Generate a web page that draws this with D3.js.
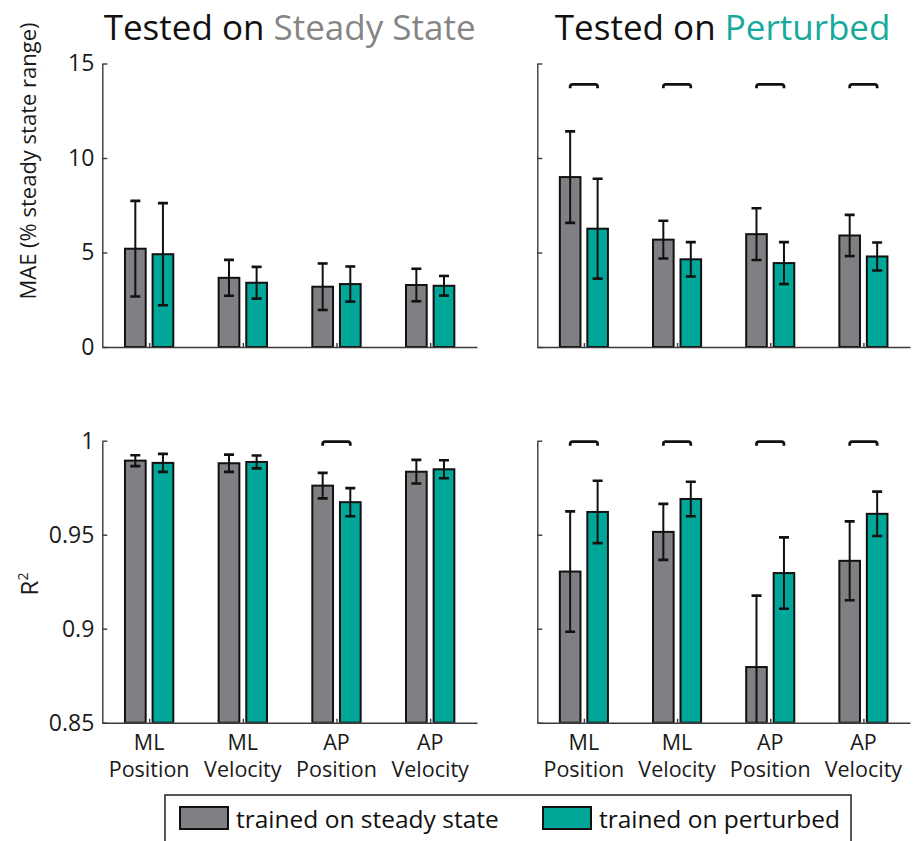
<!DOCTYPE html>
<html>
<head>
<meta charset="utf-8">
<script src="https://cdn.jsdelivr.net/npm/d3@7"></script>
<style>
  html, body { margin: 0; padding: 0; background: #fff; }
  svg { display: block; font-family: "Open Sans", "Noto Sans", sans-serif; }
</style>
</head>
<body>
<svg id="chart" width="915" height="841"></svg>
<script>
// ---------------- data ----------------
const categories = [["ML", "Position"], ["ML", "Velocity"], ["AP", "Position"], ["AP", "Velocity"]];
const seriesNames = ["trained on steady state", "trained on perturbed"];

// MAE (% steady state range) tested on steady state
const maeSteady_trainSS = [5.20, 3.66, 3.19, 3.28];
const maeSteady_trainSS_err = [2.53, 0.95, 1.23, 0.86];
const maeSteady_trainPT = [4.91, 3.40, 3.33, 3.24];
const maeSteady_trainPT_err = [2.70, 0.84, 0.93, 0.52];
// MAE tested on perturbed
const maePert_trainSS = [8.99, 5.68, 5.97, 5.90];
const maePert_trainSS_err = [2.42, 1.00, 1.37, 1.09];
const maePert_trainPT = [6.26, 4.64, 4.44, 4.79];
const maePert_trainPT_err = [2.64, 0.91, 1.11, 0.74];
// R^2 tested on steady state
const r2Steady_trainSS = [0.9894, 0.9880, 0.9761, 0.9835];
const r2Steady_trainSS_err = [0.0029, 0.0046, 0.0068, 0.0063];
const r2Steady_trainPT = [0.9882, 0.9887, 0.9673, 0.9848];
const r2Steady_trainPT_err = [0.0048, 0.0034, 0.0075, 0.0048];
// R^2 tested on perturbed
const r2Pert_trainSS = [0.9304, 0.9515, 0.8796, 0.9361];
const r2Pert_trainSS_err = [0.0320, 0.0149, 0.0380, 0.0210];
const r2Pert_trainPT = [0.9621, 0.9690, 0.9296, 0.9611];
const r2Pert_trainPT_err = [0.0166, 0.0092, 0.0190, 0.0118];

// significance brackets (category indices)
const maeSteadySig = [];
const maePertSig = [0, 1, 2, 3];
const r2SteadySig = [2];
const r2PertSig = [0, 1, 2, 3];

const maeTicks = [0, 5, 10, 15];
const r2Ticks = [0.85, 0.9, 0.95, 1];
const maeTickLabels = ["0", "5", "10", "15"];
const r2TickLabels = ["0.85", "0.9", "0.95", "1"];

// ---------------- style ----------------
const colors = ["#808084", "#00a698"];
const axisColor = "#3a3a3a";

const svg = d3.select("#chart");
svg.append("rect").attr("width", 915).attr("height", 841).attr("fill", "#fff");

function drawPanel(cfg) {
  const x = d3.scaleLinear().domain([0.5, 4.5]).range([cfg.left, cfg.right]);
  const y = d3.scaleLinear().domain(cfg.domain).range([cfg.bottom, cfg.top]);
  const unit = x(1) - x(0);
  const sub = d3.scaleBand().domain([0, 1])
    .range([-0.258 * unit, 0.258 * unit]).paddingInner(0.25).paddingOuter(0);
  const g = svg.append("g");
  const clipId = "clip" + cfg.id;
  svg.append("clipPath").attr("id", clipId).append("rect")
    .attr("x", cfg.left).attr("y", cfg.top - 30)
    .attr("width", cfg.right - cfg.left).attr("height", cfg.bottom - cfg.top + 30);

  const series = [
    { vals: cfg.ss, err: cfg.ssErr, k: 0 },
    { vals: cfg.pt, err: cfg.ptErr, k: 1 }
  ];
  const base = cfg.domain[0];
  const bars = g.append("g").attr("clip-path", `url(#${clipId})`);
  series.forEach(s => {
    bars.selectAll(null).data(s.vals).enter().append("rect")
      .attr("x", (d, i) => x(i + 1) + sub(s.k))
      .attr("width", sub.bandwidth())
      .attr("y", d => y(d))
      .attr("height", d => y(base) - y(d))
      .attr("fill", colors[s.k])
      .attr("stroke", "#111")
      .attr("stroke-width", 2);
  });
  // x axis (inward ticks at group centres)
  g.append("g").attr("transform", `translate(0,${cfg.bottom})`)
    .call(d3.axisBottom(x).tickValues([1, 2, 3, 4]).tickFormat("").tickSizeInner(-4).tickSizeOuter(0))
    .call(a => a.selectAll("path,line").attr("stroke", axisColor).attr("stroke-width", 1.4));
  // error bars
  series.forEach(s => {
    const eg = g.append("g").attr("clip-path", `url(#${clipId})`);
    s.vals.forEach((d, i) => {
      const cx = x(i + 1) + sub(s.k) + sub.bandwidth() / 2;
      const yt = y(d + s.err[i]);
      const yb = Math.min(y(d - s.err[i]), y(base));
      eg.append("line").attr("x1", cx).attr("x2", cx).attr("y1", yt).attr("y2", yb)
        .attr("stroke", "#111").attr("stroke-width", 2);
      [yt, yb].forEach(yy => {
        if (yy < y(base) - 0.5)
          eg.append("line").attr("x1", cx - 5).attr("x2", cx + 5).attr("y1", yy).attr("y2", yy)
            .attr("stroke", "#111").attr("stroke-width", 2.6);
      });
    });
  });
  // y axis
  g.append("g").attr("transform", `translate(${cfg.left},0)`)
    .call(d3.axisLeft(y).tickValues(cfg.ticks)
      .tickFormat((d, i) => cfg.showLabels ? cfg.tickLabels[i] : "")
      .tickSizeInner(-5).tickSizeOuter(0).tickPadding(8))
    .call(a => {
      a.selectAll("path,line").attr("stroke", axisColor).attr("stroke-width", 1.4);
      a.selectAll("text").attr("font-family", "Open Sans").attr("font-size", 23).attr("fill", "#1a1a1a");
    });
  // significance brackets
  cfg.sig.forEach(i => {
    const x1 = x(i + 1) + sub(0) + sub.bandwidth() / 2;
    const x2 = x(i + 1) + sub(1) + sub.bandwidth() / 2;
    const yy = y(cfg.sigLevel);
    const r = 2.5, leg = 4;
    g.append("path")
      .attr("d", `M${x1},${yy + leg} L${x1},${yy + r} Q${x1},${yy} ${x1 + r},${yy} L${x2 - r},${yy} Q${x2},${yy} ${x2},${yy + r} L${x2},${yy + leg}`)
      .attr("fill", "none").attr("stroke", "#111").attr("stroke-width", 2.8);
  });
  // category labels
  if (cfg.catLabels) {
    categories.forEach((c, i) => {
      const t = g.append("text").attr("x", x(i + 1)).attr("text-anchor", "middle")
        .attr("font-size", 21.5).attr("fill", "#1a1a1a");
      t.append("tspan").attr("x", x(i + 1)).attr("y", cfg.bottom + 27).text(c[0]);
      t.append("tspan").attr("x", x(i + 1)).attr("y", cfg.bottom + 54).text(c[1]);
    });
  }
}

const L1 = 102.3, R1 = 477, L2 = 537.3, R2 = 910;
const T1 = 63.5, B1 = 347, T2 = 440.7, B2 = 722.7;

drawPanel({ id: "a", left: L1, right: R1, top: T1, bottom: B1, domain: [0, 15], ticks: maeTicks, tickLabels: maeTickLabels, showLabels: true,
  ss: maeSteady_trainSS, ssErr: maeSteady_trainSS_err, pt: maeSteady_trainPT, ptErr: maeSteady_trainPT_err, sig: maeSteadySig, sigLevel: 13.9 });
drawPanel({ id: "b", left: L2, right: R2, top: T1, bottom: B1, domain: [0, 15], ticks: maeTicks, tickLabels: maeTickLabels, showLabels: false,
  ss: maePert_trainSS, ssErr: maePert_trainSS_err, pt: maePert_trainPT, ptErr: maePert_trainPT_err, sig: maePertSig, sigLevel: 13.9 });
drawPanel({ id: "c", left: L1, right: R1, top: T2, bottom: B2, domain: [0.85, 1], ticks: r2Ticks, tickLabels: r2TickLabels, showLabels: true,
  ss: r2Steady_trainSS, ssErr: r2Steady_trainSS_err, pt: r2Steady_trainPT, ptErr: r2Steady_trainPT_err, sig: r2SteadySig, sigLevel: 0.9995, catLabels: true });
drawPanel({ id: "d", left: L2, right: R2, top: T2, bottom: B2, domain: [0.85, 1], ticks: r2Ticks, tickLabels: r2TickLabels, showLabels: false,
  ss: r2Pert_trainSS, ssErr: r2Pert_trainSS_err, pt: r2Pert_trainPT, ptErr: r2Pert_trainPT_err, sig: r2PertSig, sigLevel: 0.9995, catLabels: true });

// titles
function title(cx, grayPart, color) {
  const t = svg.append("text").attr("x", cx).attr("y", 40).attr("text-anchor", "middle")
    .attr("font-size", 35).attr("fill", "#111");
  t.append("tspan").text("Tested on ");
  t.append("tspan").attr("fill", color).text(grayPart);
}
title((L1 + R1) / 2, "Steady State", "#858585");
title((L2 + R2) / 2 - 1, "Perturbed", "#17a99b");

// y labels
svg.append("text").attr("transform", "translate(36,161) rotate(-90)").attr("text-anchor", "middle")
  .attr("font-size", 22).attr("fill", "#1a1a1a").text("MAE (% steady state range)");
const r2 = svg.append("text").attr("transform", "translate(38,584) rotate(-90)").attr("text-anchor", "middle")
  .attr("font-size", 24).attr("fill", "#1a1a1a");
r2.append("tspan").text("R");
r2.append("tspan").attr("font-size", 14).attr("dy", -10).text("2");

// legend
const lg = svg.append("g");
lg.append("rect").attr("x", 165).attr("y", 795).attr("width", 686).attr("height", 70)
  .attr("fill", "#fff").attr("stroke", "#222").attr("stroke-width", 1.5);
const legX = [180, 543];
seriesNames.forEach((n, k) => {
  lg.append("rect").attr("x", legX[k]).attr("y", 807).attr("width", 48).attr("height", 22)
    .attr("fill", colors[k]).attr("stroke", "#111").attr("stroke-width", 2);
  lg.append("text").attr("x", legX[k] + 56).attr("y", 828).attr("font-size", 24.5).attr("fill", "#111").text(n);
});
</script>
</body>
</html>
